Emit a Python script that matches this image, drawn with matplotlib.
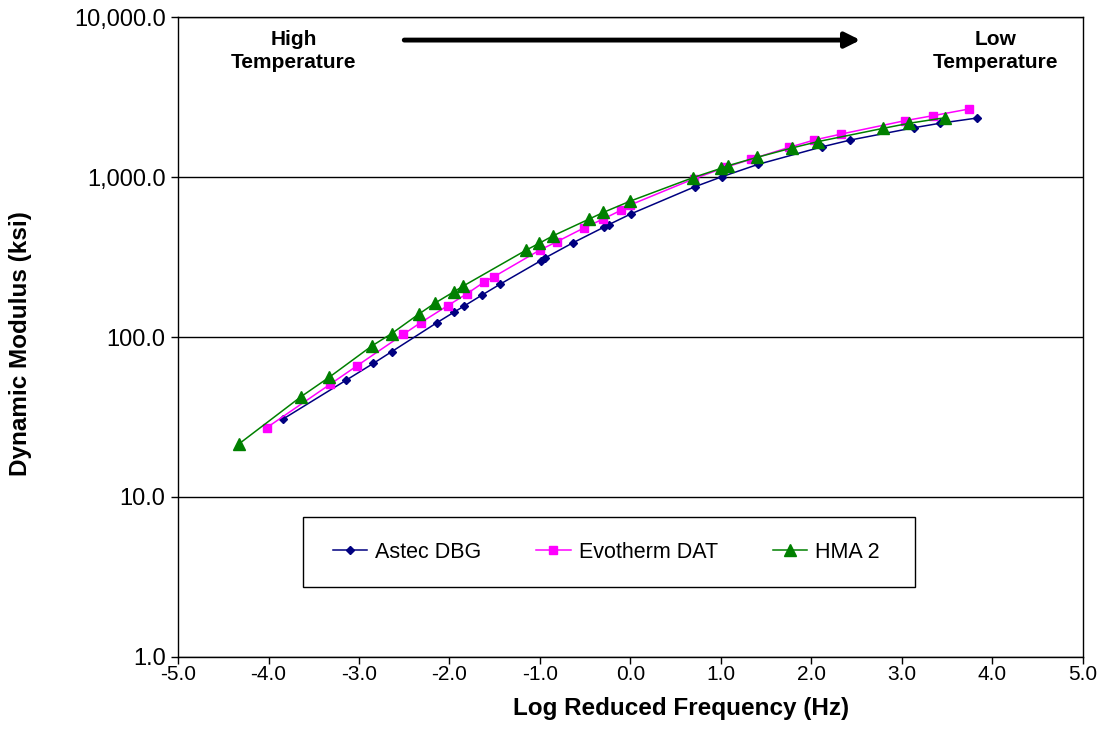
import numpy as np
import matplotlib
matplotlib.use("Agg")
import matplotlib.pyplot as plt
from matplotlib.patches import Rectangle
from matplotlib.ticker import FuncFormatter, FixedLocator, NullLocator

plt.rcParams['font.family'] = ['Liberation Sans', 'DejaVu Sans']

# --- data ---
astec_x = [-3.84, -3.14, -2.84, -2.64, -2.14, -1.95, -1.84, -1.64, -1.44, -0.99, -0.94,
           -0.64, -0.29, -0.24, 0.01, 0.71, 1.01, 1.41, 2.12, 2.43, 3.13, 3.42, 3.83]
astec_y = [30.7, 53.8, 68.5, 80.9, 122.8, 143, 156, 183, 214, 300, 313,
           387, 487, 504, 590, 869, 1004, 1200, 1546, 1703, 2032, 2168, 2338]

evo_x = [-4.02, -3.32, -3.02, -2.51, -2.32, -2.02, -1.81, -1.62, -1.51, -1.00, -0.81,
         -0.51, -0.30, -0.10, 0.00, 0.70, 1.05, 1.33, 1.75, 2.03, 2.33, 3.03, 3.34, 3.74]
evo_y = [27.1, 50.6, 66.2, 104, 122.8, 157, 186, 220, 238, 350, 395,
         482, 547, 622, 670, 975, 1150, 1291, 1530, 1703, 1857, 2248, 2416, 2661]

hma_x = [-4.33, -3.64, -3.33, -2.86, -2.64, -2.34, -2.16, -1.95, -1.85, -1.15, -1.01,
         -0.86, -0.46, -0.30, 0.00, 0.69, 1.00, 1.08, 1.40, 1.78, 2.07, 2.79, 3.08, 3.48]
hma_y = [21.4, 42.4, 56.0, 87.8, 105, 139, 163, 192, 208, 350, 385,
         428, 545, 601, 708, 991, 1133, 1178, 1328, 1517, 1664, 2014, 2168, 2350]

x_ticks = [-5, -4, -3, -2, -1, 0, 1, 2, 3, 4, 5]
y_ticks = [1, 10, 100, 1000, 10000]

fig = plt.figure(figsize=(11.07, 7.47), dpi=100)
ax = fig.add_axes([0.1608, 0.1205, 0.8175, 0.8567])

ax.plot(astec_x, astec_y, color='#000080', lw=1.1, marker='D', ms=4, label='Astec DBG')
ax.plot(evo_x, evo_y, color='#FF00FF', lw=1.1, marker='s', ms=5.5, label='Evotherm DAT')
ax.plot(hma_x, hma_y, color='#008000', lw=1.1, marker='^', ms=8, label='HMA 2')

ax.set_yscale('log')
ax.set_xlim(-5, 5)
ax.set_ylim(1, 10000)
ax.xaxis.set_major_locator(FixedLocator(x_ticks))
ax.yaxis.set_major_locator(FixedLocator(y_ticks))
ax.yaxis.set_minor_locator(NullLocator())
ax.xaxis.set_major_formatter(FuncFormatter(lambda v, p: f"{v:.1f}"))
ax.yaxis.set_major_formatter(FuncFormatter(lambda v, p: f"{v:,.1f}"))
ax.tick_params(axis='both', direction='out', length=5, width=1, color='black')
ax.tick_params(axis='x', labelsize=15, pad=1)
ax.tick_params(axis='y', labelsize=17, pad=4)

ax.grid(True, axis='y', color='black', lw=1)
for s in ax.spines.values():
    s.set_color('black')
    s.set_linewidth(1)

ax.set_xlabel('Log Reduced Frequency (Hz)', fontsize=17.5, fontweight='bold')
ax.set_ylabel('Dynamic Modulus (ksi)', fontsize=17.5, fontweight='bold')
ax.xaxis.set_label_coords(0.556, -0.0625)
ax.yaxis.set_label_coords(-0.161, 0.49)

# temperature annotations
ax.text(0.128, 0.980, 'High\nTemperature', transform=ax.transAxes, ha='center', va='top',
        fontsize=15, fontweight='bold', linespacing=1.3)
ax.text(0.903, 0.980, 'Low\nTemperature', transform=ax.transAxes, ha='center', va='top',
        fontsize=15, fontweight='bold', linespacing=1.3)
ax.annotate('', xy=(0.754, 0.964), xytext=(0.250, 0.964), xycoords='axes fraction',
            arrowprops=dict(arrowstyle='-|>,head_length=0.9,head_width=0.45',
                            color='black', lw=3.5, shrinkA=0, shrinkB=0))

# legend: frame drawn separately so the box size matches the reference
ax.add_patch(Rectangle((0.138, 0.109), 0.676, 0.109, transform=ax.transAxes,
                       facecolor='white', edgecolor='black', lw=1, zorder=4))
leg = ax.legend(loc='center', bbox_to_anchor=(0.473, 0.164), ncol=3, fontsize=15.5,
                frameon=False, handlelength=1.6, handletextpad=0.37,
                columnspacing=2.55, borderaxespad=0)
leg.set_zorder(5)

fig.savefig('out.png', dpi=100)
